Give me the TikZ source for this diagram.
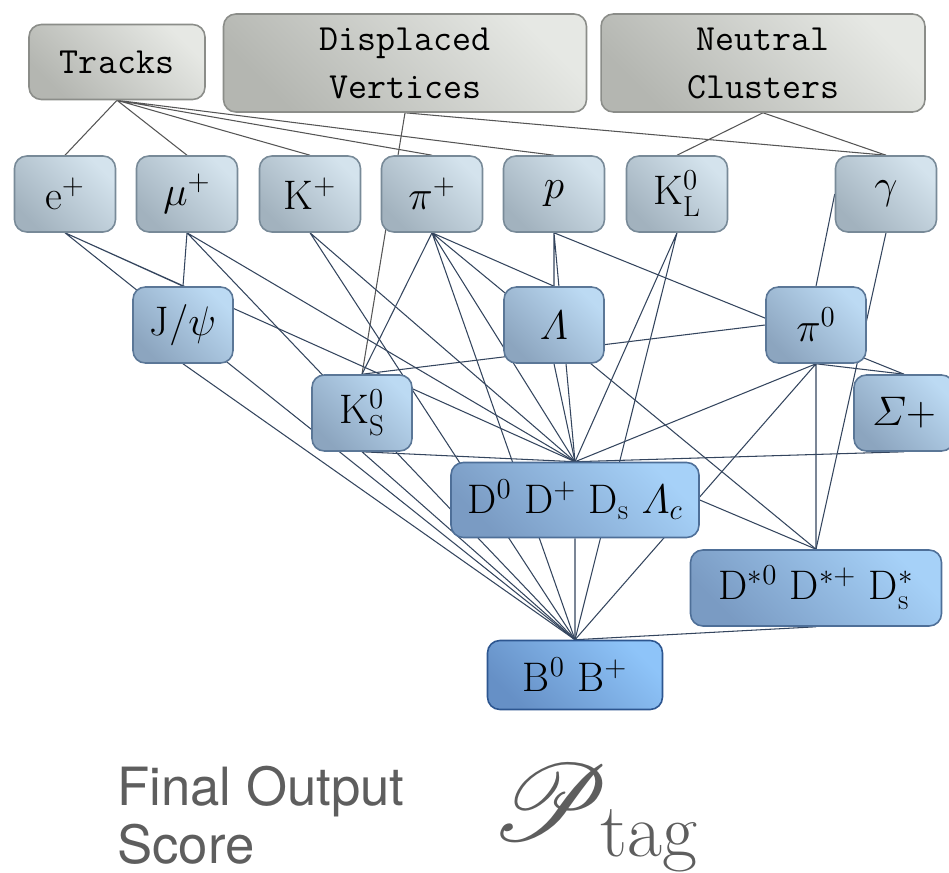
\RequirePackage{fix-cm}
\documentclass[tikz,border=0pt]{standalone}
\usepackage{amsmath}
\usepackage{fontspec}
\usepackage{mathrsfs}
\DeclareFontFamily{U}{rsfs}{\skewchar\font127 }
\DeclareFontShape{U}{rsfs}{m}{n}{<-> rsfs10}{}
\usetikzlibrary{positioning}
\newfontfamily\scorefont{TeX Gyre Heros}

\definecolor{srcA}{HTML}{E6E8E4}
\definecolor{srcB}{HTML}{B4B6B1}
\definecolor{srcL}{HTML}{8B8D89}
\definecolor{partA}{HTML}{D4E3ED}
\definecolor{partB}{HTML}{A2B2BE}
\definecolor{partL}{HTML}{788A98}
\definecolor{compA}{HTML}{BCDAF3}
\definecolor{compB}{HTML}{8CA5BF}
\definecolor{compL}{HTML}{5B7797}
\definecolor{charmA}{HTML}{A6D1F8}
\definecolor{charmB}{HTML}{7A9BC3}
\definecolor{charmL}{HTML}{4E6F98}
\definecolor{bA}{HTML}{8EC4F9}
\definecolor{bB}{HTML}{6690C6}
\definecolor{bL}{HTML}{2D5690}
\definecolor{wireT}{HTML}{555555}
\definecolor{wire}{HTML}{34455E}
\definecolor{label}{HTML}{5E5E5E}

\pgfdeclarelayer{back}
\pgfsetlayers{back,main}

\tikzset{
  box/.style={rounded corners=7pt, inner sep=0pt, line width=0.9pt, align=center},
  src/.style={box, draw=srcL, top color=srcA, bottom color=srcB, shading angle=-45,
    font=\fontsize{21}{27.3}\selectfont\ttfamily, minimum height=1.96cm},
  part/.style={box, draw=partL, top color=partA, bottom color=partB, shading angle=-45,
    font=\fontsize{23.5}{28}\selectfont, minimum width=2.02cm, minimum height=1.52cm},
  comp/.style={box, draw=compL, top color=compA, bottom color=compB, shading angle=-45,
    font=\fontsize{23.5}{28}\selectfont, minimum width=2.0cm, minimum height=1.52cm},
  charm/.style={box, draw=charmL, top color=charmA, bottom color=charmB, shading angle=-45,
    font=\fontsize{23.5}{28}\selectfont, minimum height=1.52cm},
  bmes/.style={box, draw=bL, top color=bA, bottom color=bB, shading angle=-45,
    font=\fontsize{23.5}{28}\selectfont, minimum width=3.5cm, minimum height=1.38cm},
  wt/.style={draw=wireT, line width=0.6pt},
  wb/.style={draw=wire, line width=0.6pt},
}

\begin{document}
\begin{tikzpicture}[x=0.02cm,y=-0.02cm]
  \useasboundingbox (0,0) rectangle (949,872);

  % detector inputs
  \node[src, minimum width=3.52cm, minimum height=1.5cm] (trk) at (117,62) {Tracks};
  \node[src, minimum width=7.26cm] (dv) at (405,63) {Displaced\\Vertices};
  \node[src, minimum width=6.48cm] (nc) at (763,63) {Neutral\\Clusters};

  % final state particles
  \node[part] (ep) at (65,194) {$\mathrm{e}^+$};
  \node[part] (mup) at (187,194) {$\mu^+$};
  \node[part] (kp) at (310,194) {$\mathrm{K}^+$};
  \node[part] (pip) at (432,194) {$\pi^+$};
  \node[part] (pr) at (554,194) {$p$};
  \node[part] (kl) at (677,194) {$\mathrm{K}^0_\mathrm{L}$};
  \node[part] (gam) at (886,194) {$\gamma$};

  % intermediate states
  \node[comp] (jpsi) at (183,325) {$\mathrm{J}/\psi$};
  \node[comp] (lam) at (554,325) {$\varLambda$};
  \node[comp] (pi0) at (816,325) {$\pi^0$};
  \node[comp] (ks) at (362,413) {$\mathrm{K}^0_\mathrm{S}$};
  \node[comp] (sig) at (904,413) {$\varSigma{+}$};

  % charm and B
  \node[charm, minimum width=4.96cm, minimum height=1.5cm] (dm) at (575,500)
    {$\mathrm{D}^0\ \mathrm{D}^+\ \mathrm{D_s}\ \varLambda_c$};
  \node[charm, minimum width=5.02cm] (dst) at (816,588)
    {$\mathrm{D}^{*0}\ \mathrm{D}^{*+}\ \mathrm{D}^*_\mathrm{s}$};
  \node[bmes] (bm) at (575,675) {$\mathrm{B}^0\ \mathrm{B}^+$};

  \begin{pgfonlayer}{back}
    % inputs to particles
    \draw[wt] (trk.south) -- (ep.north) (trk.south) -- (mup.north)
      (trk.south) -- (kp.north) (trk.south) -- (pip.north) (trk.south) -- (pr.north);
    \draw[wt] (dv.south) -- (ks.north) (dv.south) -- (gam.north);
    \draw[wt] (nc.south) -- (kl.north) (nc.south) -- (gam.north);

    % particles to combined candidates
    \draw[wb] (ep.south) -- (jpsi.north) (ep.south) -- (dm.north) (ep.south) -- (bm.north);
    \draw[wb] (mup.south) -- (jpsi.north) (mup.south) -- (dm.north) (mup.south) -- (bm.north);
    \draw[wb] (kp.south) -- (dm.north) (kp.south) -- (bm.north);
    \draw[wb] (pip.south) -- (ks.north) (pip.south) -- (lam.north)
      (pip.south) -- (dm.north) (pip.south) -- (bm.north) (pip.south) -- (dst.north);
    \draw[wb] (pr.south) -- (lam.north) (pr.south) -- (dm.north) (pr.south) -- (sig.north);
    \draw[wb] (kl.south) -- (dm.north) (kl.south) -- (bm.north);
    \draw[wb] (gam.west) -- (pi0.north) (gam.south) -- (dst.north);
    \draw[wb] (jpsi.south) -- (bm.north);
    \draw[wb] (lam.south) -- (dm.north);
    \draw[wb] (ks.north) -- (pi0.west) (ks.south) -- (dm.north) (ks.south) -- (bm.north);
    \draw[wb] (pi0.south) -- (sig.north) (pi0.south) -- (dm.north)
      (pi0.south) -- (bm.north) (pi0.south) -- (dst.north);
    \draw[wb] (sig.south) -- (dm.north);
    \draw[wb] (dm.east) -- (dst.north) (dm.south) -- (bm.north);
    \draw[wb] (dst.south) -- (bm.north);
  \end{pgfonlayer}

  % output
  \node[anchor=base west, inner sep=0pt, text=label, font=\fontsize{30}{34}\scorefont] (fo) at (117,805) {Final Output};
  \node[anchor=base west, inner sep=0pt, text=label, font=\fontsize{30}{34}\scorefont] (sc) at (117,863) {Score};
  \node[anchor=base west, inner sep=0pt, text=label, font=\fontsize{62}{68}\selectfont] (ptag) at (490,840)
    {$\mathscr{P}_{\mathrm{tag}}$};
\end{tikzpicture}
\end{document}
